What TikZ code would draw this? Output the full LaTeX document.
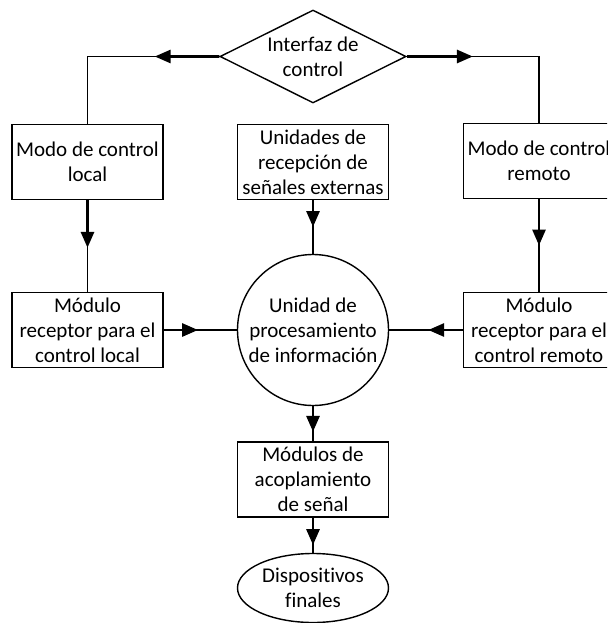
\documentclass[tikz,border=0pt]{standalone}
\usepackage{fontspec}
\setmainfont{Carlito}[Ligatures=NoCommon]
\usetikzlibrary{shapes.geometric,arrows.meta,calc}

\begin{document}
\begin{tikzpicture}[x=1pt,y=-1pt,
  every node/.style={font=\fontsize{21pt}{25pt}\selectfont, align=center, inner sep=0pt},
  block/.style={draw, line width=1.4pt, rectangle, minimum width=151pt, minimum height=75pt},
  roundblock/.style={draw, line width=1.4pt, circle, minimum size=151pt},
  endblock/.style={draw, line width=1.4pt, ellipse, minimum width=151pt, minimum height=69pt},
  choice/.style={draw, line width=1.4pt, diamond, minimum width=186pt, minimum height=93pt},
  lnthin/.style={line width=1.4pt, line join=miter},
  lnthick/.style={line width=2.9pt, -{Triangle[length=16pt,width=13pt]}},
]
\useasboundingbox (0,0) rectangle (607,623);
\clip (0,0) rectangle (607,623);

% nodes
\node[choice] (iface) at (313,56.5) {};
\node (ifacetxt) at (313,57) {Interfaz de\\control};

\node[block] (local)  at (87.5,162) {Modo de control\\local};
\node[block] (units)  at (313,162)  {Unidades de\\recepción de\\señales externas};
\node[block] (remote) at (539,161)  {Modo de control\\remoto};

\node[block] (modlocal)  at (87.5,330) {Módulo\\receptor para el\\control local};
\node[roundblock] (proc) at (313,330)  {Unidad de\\procesamiento\\de información};
\node[block] (modremote) at (539,330)  {Módulo\\receptor para el\\control remoto};

\node[block] (acopl) at (313,479.5) {Módulos de\\acoplamiento\\de señal};
\node[endblock] (final) at (313,588) {Dispositivos\\finales};

% corners of the top connectors
\coordinate (cl) at (local.north |- iface.west);
\coordinate (cr) at (remote.north |- iface.east);

% interface -> local / remote modes
\draw[lnthin] (iface.west) -- (cl) -- (local.north);
\draw[lnthick] (iface.west) -- ($(iface.west)!0.49!(cl)$);
\draw[lnthin] (iface.east) -- (cr) -- (remote.north);
\draw[lnthick] (iface.east) -- ($(iface.east)!0.5!(cr)$);

% modes -> receiver modules
\draw[lnthin] (local.south) -- (modlocal.north);
\draw[lnthick] (local.south) -- ($(local.south)!0.52!(modlocal.north)$);
\draw[lnthin] (remote.south) -- (modremote.north);
\draw[lnthick] (remote.south) -- ($(remote.south)!0.5!(modremote.north)$);

% inputs to the processing unit
\draw[lnthin] (units.south) -- (proc.north);
\draw[lnthick] (units.south) -- ($(units.south)!0.5!(proc.north)$);
\draw[lnthin] (modlocal.east) -- (proc.west);
\draw[lnthick] (modlocal.east) -- ($(modlocal.east)!0.47!(proc.west)$);
\draw[lnthin] (modremote.west) -- (proc.east);
\draw[lnthick] (modremote.west) -- ($(modremote.west)!0.47!(proc.east)$);

% outputs
\draw[lnthin] (proc.south) -- (acopl.north);
\draw[lnthick] (proc.south) -- ($(proc.south)!0.73!(acopl.north)$);
\draw[lnthin] (acopl.south) -- (final.north);
\draw[lnthick] (acopl.south) -- ($(acopl.south)!0.78!(final.north)$);
\end{tikzpicture}
\end{document}
